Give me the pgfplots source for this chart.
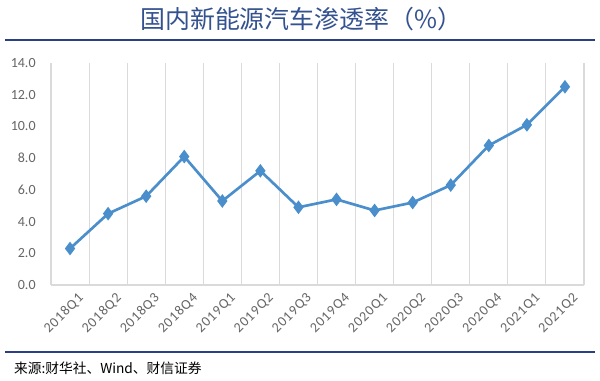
\documentclass[border=0pt]{standalone}
\usepackage{pgfplots}
\pgfplotsset{compat=1.18}
\usepackage{fontspec}
\setmainfont{Carlito}
\newfontfamily\cjk{Noto Sans CJK SC}
\newfontfamily\wide[LetterSpace=6]{Carlito}
\definecolor{lineblue}{HTML}{4A8FCB}
\definecolor{navy}{HTML}{2B3F87}
\definecolor{titleblue}{HTML}{34528F}
\definecolor{tickgray}{HTML}{666666}
\definecolor{gridgray}{HTML}{DADADA}
\begin{document}
\begin{tikzpicture}[x=1pt,y=1pt]
\useasboundingbox (0,0) rectangle (450,285);
\fill[white] (0,0) rectangle (450,285);
\node[text=titleblue,font=\cjk\fontsize{18.7}{22}\selectfont] at (226,271) {国内新能源汽车渗透率（\%）};
\draw[navy,line width=1.6pt] (4,255) -- (446,255);
\draw[navy,line width=1.6pt] (4,21) -- (446,21);
\node[anchor=west,text=black,font=\cjk\fontsize{10.3}{12}\selectfont] at (7,9) {来源:财华社、Wind、财信证券};
\begin{axis}[
  at={(38.25pt,71.25pt)}, anchor=south west,
  scale only axis, width=399.75pt, height=166.5pt,
  xmin=-0.5, xmax=13.5, ymin=0, ymax=14,
  xtick={0,...,13},
  xticklabels={2018Q1,2018Q2,2018Q3,2018Q4,2019Q1,2019Q2,2019Q3,2019Q4,2020Q1,2020Q2,2020Q3,2020Q4,2021Q1,2021Q2},
  minor xtick={-0.5,0.5,...,13.5},
  xminorgrids, minor grid style={gridgray,line width=0.8pt},
  ytick={0,2,...,14},
  yticklabel style={/pgf/number format/fixed,/pgf/number format/fixed zerofill,/pgf/number format/precision=1,xshift=-8pt,font=\fontsize{10.5}{12}\selectfont},
  /pgf/number format/assume math mode=true,
  axis x line*=bottom, axis y line*=left,
  x axis line style={gridgray,line width=0.8pt,-},
  y axis line style={draw=none},
  tick style={draw=none}, minor tick length=0pt, major tick length=0pt,
  ticklabel style={text=tickgray},
  xticklabel style={rotate=45,anchor=north east,xshift=3.5pt,yshift=-4pt,font=\wide\fontsize{10.5}{12}\selectfont},
]
\addplot[lineblue,line width=2pt,mark=diamond*,mark size=3.5pt,mark options={fill=lineblue,draw=lineblue}]
coordinates {(0,2.3)(1,4.5)(2,5.6)(3,8.1)(4,5.3)(5,7.2)(6,4.9)(7,5.4)(8,4.7)(9,5.2)(10,6.3)(11,8.8)(12,10.1)(13,12.5)};
\end{axis}
\end{tikzpicture}
\end{document}
